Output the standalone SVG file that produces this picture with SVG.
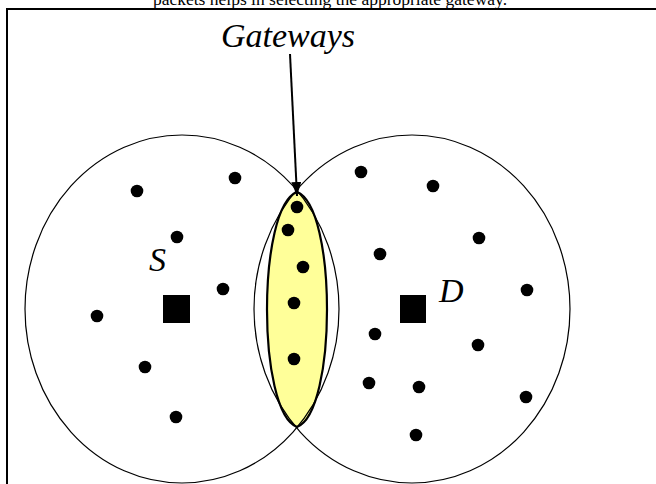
<svg xmlns="http://www.w3.org/2000/svg" width="656" height="484" viewBox="0 0 656 484">
<style>
.area{fill:none;stroke:#000;stroke-width:1.2}
.dot{fill:#000}
.lbl{font-family:"Liberation Serif","Times New Roman",serif;font-style:italic;font-size:34px;fill:#000}
.cap{font-family:"Liberation Serif","Times New Roman",serif;font-size:17.5px;fill:#000}
</style>
<defs>
<marker id="ah" viewBox="0 0 14 10" refX="14" refY="5" markerWidth="14" markerHeight="10" markerUnits="userSpaceOnUse" orient="auto">
<path d="M0,0 L14,5 L0,10 Z" fill="#000"/>
</marker>
</defs>
<rect width="656" height="484" fill="#fff"/>
<text class="cap" x="330" y="5" text-anchor="middle">packets helps in selecting the appropriate gateway.</text>
<path d="M7,484 V9 H656" fill="none" stroke="#000" stroke-width="2"/>
<g id="gateway-zone">
<path d="M297,192 C337,207 337,412 297,427 C257,412 257,207 297,192 Z" fill="#ffff99" stroke="#000" stroke-width="2.2"/>
</g>
<g id="source-area">
<ellipse class="area" cx="182" cy="309" rx="157" ry="174"/>
</g>
<g id="dest-area">
<ellipse class="area" cx="412" cy="309" rx="158" ry="174"/>
</g>
<g id="source">
<rect x="163" y="295" width="27" height="28" fill="#000"/>
<text class="lbl" x="149" y="271">S</text>
</g>
<g id="destination">
<rect x="400" y="295" width="26" height="28" fill="#000"/>
<text class="lbl" x="439" y="302">D</text>
</g>
<g id="nodes">
<circle class="dot" cx="137" cy="191" r="6.3"/>
<circle class="dot" cx="235" cy="178" r="6.3"/>
<circle class="dot" cx="177" cy="237" r="6.3"/>
<circle class="dot" cx="223" cy="289" r="6.3"/>
<circle class="dot" cx="97" cy="316" r="6.3"/>
<circle class="dot" cx="145" cy="367" r="6.3"/>
<circle class="dot" cx="176" cy="417" r="6.3"/>
<circle class="dot" cx="297" cy="207" r="6.3"/>
<circle class="dot" cx="288" cy="230" r="6.3"/>
<circle class="dot" cx="303" cy="267" r="6.3"/>
<circle class="dot" cx="294" cy="303" r="6.3"/>
<circle class="dot" cx="294" cy="359" r="6.3"/>
<circle class="dot" cx="361" cy="172" r="6.3"/>
<circle class="dot" cx="433" cy="186" r="6.3"/>
<circle class="dot" cx="479" cy="238" r="6.3"/>
<circle class="dot" cx="380" cy="254" r="6.3"/>
<circle class="dot" cx="527" cy="290" r="6.3"/>
<circle class="dot" cx="375" cy="334" r="6.3"/>
<circle class="dot" cx="478" cy="345" r="6.3"/>
<circle class="dot" cx="369" cy="383" r="6.3"/>
<circle class="dot" cx="419" cy="387" r="6.3"/>
<circle class="dot" cx="526" cy="397" r="6.3"/>
<circle class="dot" cx="416" cy="435" r="6.3"/>
</g>
<g id="gateways-label">
<text class="lbl" x="221" y="47">Gateways</text>
</g>
<g id="connectors">
<line x1="290" y1="54" x2="297" y2="196" stroke="#000" stroke-width="2" marker-end="url(#ah)"/>
</g>
</svg>
